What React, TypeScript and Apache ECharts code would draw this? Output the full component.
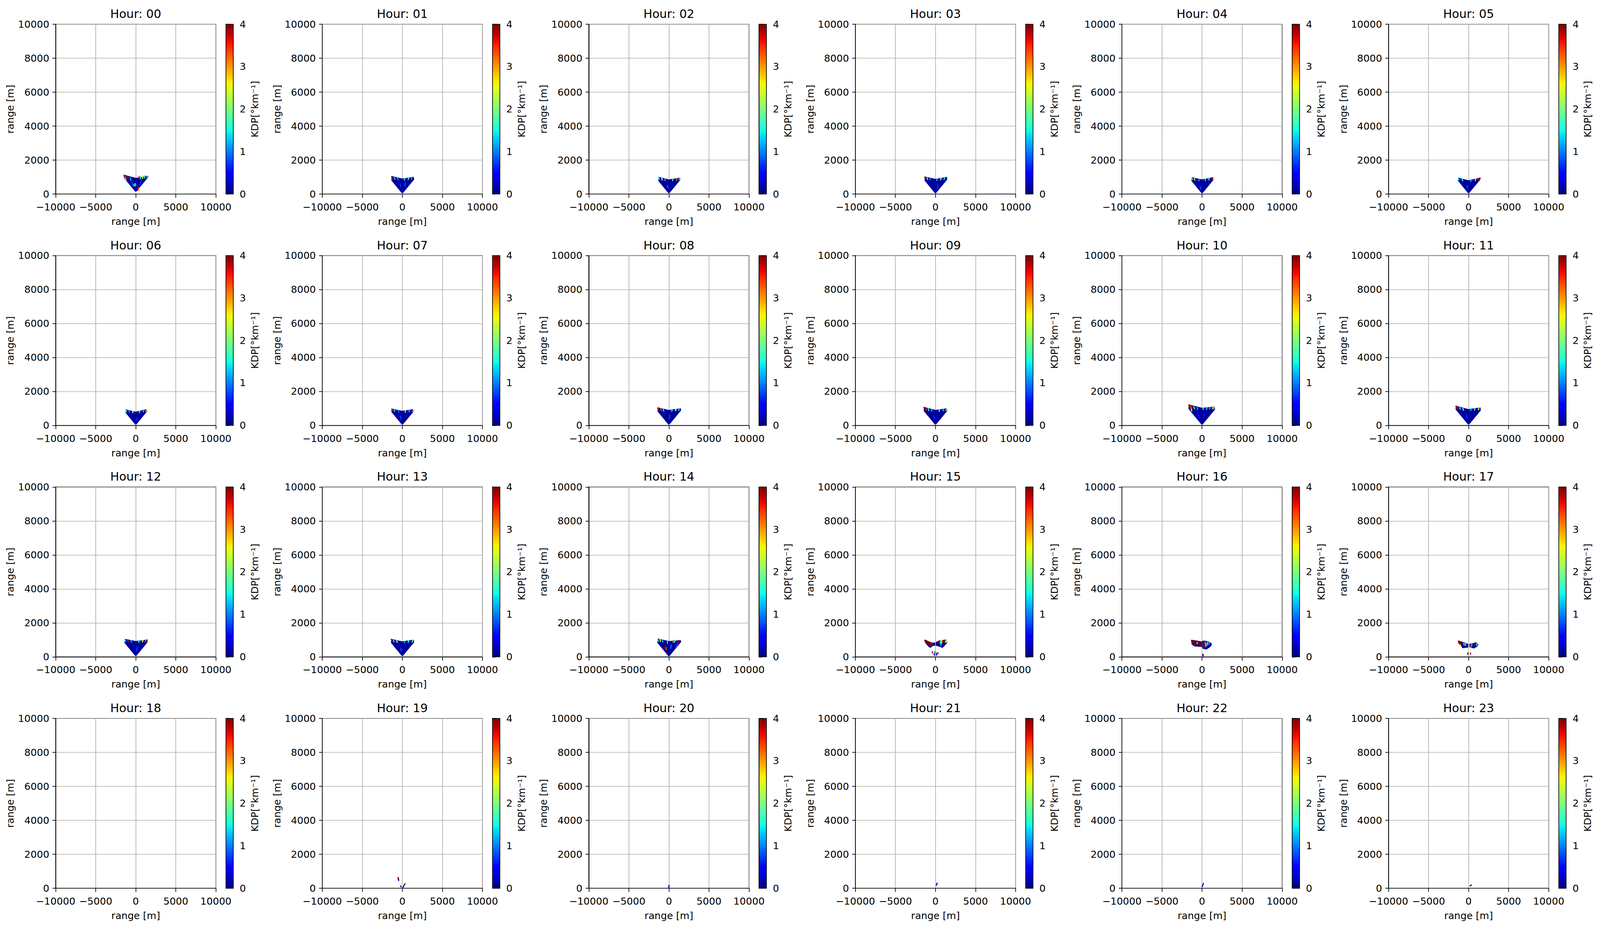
import React, { useEffect, useRef } from 'react';
import * as echarts from 'echarts';

// ---------- labels & ticks ----------
const HOUR_LABELS = ['00', '01', '02', '03', '04', '05', '06', '07', '08', '09', '10', '11',
  '12', '13', '14', '15', '16', '17', '18', '19', '20', '21', '22', '23'];
const X_TICKS = [-10000, -5000, 0, 5000, 10000];
const Y_TICKS = [0, 2000, 4000, 6000, 8000, 10000];
const CB_TICKS = [0, 1, 2, 3, 4];
const X_LABEL = 'range [m]';
const Y_LABEL = 'range [m]';
const CB_LABEL = 'KDP[°km⁻¹]';

// ---------- scan cone outlines, hours 00..14 (metres) ----------
const coneLeftX = [-1460, -1350, -1300, -1350, -1300, -1300, -1250, -1350, -1400, -1450, -1670, -1600, -1400, -1400, -1420];
const coneLeftTopY = [1120, 1050, 1000, 1020, 980, 950, 930, 980, 1050, 1080, 1220, 1150, 1050, 1050, 1070];
const coneMidTopY = [940, 900, 850, 880, 850, 800, 800, 850, 900, 900, 1030, 950, 920, 900, 920];
const coneRightX = [1550, 1450, 1400, 1450, 1400, 1450, 1400, 1450, 1500, 1450, 1600, 1500, 1450, 1450, 1510];
const coneRightTopY = [1050, 1000, 950, 1000, 980, 950, 950, 950, 1000, 1000, 1100, 1050, 1000, 1000, 970];
const coneApexY = [150, 60, 60, 60, 60, 60, 60, 60, 60, 60, 60, 60, 60, 60, 50];
const CONE_EDGE_SLOPE = 0.55; // lowest elevation of the scan (tan ~ 29 deg)
const BASE_KDP = 0.1;         // background KDP of the echo areas

// ---------- echo "wings", hours 15..17 (metres) ----------
const wingPolygons: Record<number, number[][][]> = {
  15: [
    [[-1350, 990], [-1310, 860], [-860, 600], [-610, 540], [-310, 660], [-60, 660], [-60, 830], [-450, 830], [-930, 920], [-1210, 980]],
    [[60, 860], [530, 960], [1090, 990], [1340, 1020], [1440, 830], [1090, 630], [880, 540], [530, 600], [60, 670]],
  ],
  16: [
    [[-1320, 980], [-1280, 750], [-980, 630], [-280, 600], [-40, 600], [-40, 890], [-560, 940], [-1120, 980]],
    [[40, 940], [420, 940], [980, 860], [1230, 750], [1050, 600], [560, 440], [140, 480], [40, 520]],
  ],
  17: [
    [[-1280, 940], [-1190, 830], [-840, 600], [-770, 520], [-420, 540], [-70, 560], [-70, 750], [-560, 840], [-1050, 920]],
    [[70, 750], [490, 790], [910, 840], [1210, 730], [1050, 600], [630, 500], [350, 560], [70, 580]],
  ],
};

// ---------- KDP streaks per hour: [x1, y1, x2, y2, kdp] ----------
const kdpStreaks: number[][][] = [
  // 00
  [[-1460, 1110, -1380, 960, 4], [-1300, 1080, -1230, 950, 4], [-1120, 1050, -1060, 940, 3.8], [-900, 1010, -860, 930, 4],
   [-1350, 990, -1200, 830, 1.4], [-700, 950, -600, 800, 1.2], [380, 950, 440, 1040, 3.5], [550, 1010, 600, 900, 1.5],
   [800, 1050, 860, 930, 2.4], [1050, 1070, 1100, 950, 1.6], [1250, 1050, 1300, 940, 3.9], [1400, 1040, 1450, 930, 1.3],
   [-250, 560, -50, 600, 1.6], [-150, 480, 0, 520, 2.2], [280, 420, 220, 220, 4], [350, 380, 300, 250, 3.5],
   [-500, 700, -300, 450, 0.8], [700, 800, 500, 500, 0.7]],
  // 01
  [[-1330, 1030, -1240, 900, 3.9], [-1000, 980, -930, 870, 1.3], [-600, 930, -540, 840, 1.1], [300, 920, 260, 820, 1.5],
   [800, 960, 740, 860, 2.0], [1200, 990, 1130, 880, 1.2], [-300, 600, -200, 450, 0.7], [400, 650, 300, 450, 0.8]],
  // 02
  [[-1280, 980, -1200, 860, 1.4], [-900, 930, -840, 830, 2.6], [-500, 880, -450, 790, 1.2], [500, 880, 450, 790, 1.6],
   [1000, 920, 940, 820, 3.2], [1350, 940, 1280, 840, 1.3], [-200, 500, -100, 350, 0.9]],
  // 03
  [[-1330, 1000, -1250, 880, 4.0], [-1050, 960, -990, 860, 1.5], [-700, 920, -640, 830, 1.0], [200, 890, 170, 800, 1.3],
   [700, 940, 650, 840, 2.3], [1150, 980, 1080, 870, 1.5], [300, 550, 200, 350, 0.7]],
  // 04
  [[-1280, 960, -1200, 850, 1.5], [-950, 920, -890, 820, 2.8], [-400, 870, -360, 780, 1.1], [450, 890, 400, 790, 1.4],
   [900, 940, 840, 840, 1.8], [1350, 960, 1280, 860, 3.6], [-250, 450, -150, 300, 0.8]],
  // 05
  [[-1280, 930, -1210, 830, 1.3], [-800, 870, -740, 780, 1.6], [300, 830, 270, 740, 1.2], [900, 890, 840, 790, 2.1],
   [1300, 930, 1230, 830, 3.8], [1430, 940, 1360, 830, 4.0], [-200, 500, -120, 350, 0.8]],
  // 06
  [[-1230, 910, -1160, 810, 1.4], [-850, 870, -790, 780, 1.1], [-400, 830, -360, 750, 2.2], [500, 840, 450, 750, 1.5],
   [1000, 900, 940, 800, 1.3], [1350, 930, 1280, 830, 2.8], [200, 450, 120, 300, 0.7]],
  // 07
  [[-1330, 960, -1250, 850, 3.6], [-1000, 920, -940, 830, 1.4], [-500, 880, -450, 790, 1.0], [400, 870, 360, 780, 1.8],
   [900, 910, 840, 810, 1.3], [1400, 930, 1330, 830, 2.5], [-250, 550, -150, 380, 0.8]],
  // 08
  [[-1380, 1030, -1300, 900, 4.0], [-1250, 1010, -1180, 890, 4.0], [-1000, 980, -940, 880, 3.3], [-700, 950, -650, 850, 1.4],
   [400, 940, 360, 840, 1.5], [900, 970, 840, 870, 2.4], [1300, 990, 1230, 880, 1.3], [100, 600, 50, 400, 0.8]],
  // 09
  [[-1430, 1060, -1350, 930, 4.0], [-1200, 1020, -1130, 910, 3.6], [-900, 980, -840, 880, 1.5], [-500, 930, -450, 840, 1.2],
   [500, 930, 460, 830, 1.7], [1000, 960, 940, 860, 1.3], [1400, 980, 1330, 880, 2.2], [-200, 550, -100, 380, 0.7]],
  // 10
  [[-1650, 1200, -1560, 1060, 4.0], [-1520, 1190, -1440, 1050, 4.0], [-1400, 1120, -1330, 1000, 3.3], [-1350, 960, -1290, 860, 2.5],
   [-1200, 1110, -1140, 1000, 4.0], [-1000, 1080, -940, 980, 1.5], [-600, 1050, -560, 950, 1.2], [150, 1020, 130, 950, 1.6],
   [600, 1050, 560, 960, 1.5], [1000, 1070, 940, 980, 1.3], [1350, 1080, 1290, 980, 3.0], [1500, 1070, 1440, 990, 1.6],
   [-500, 700, -350, 450, 0.6], [300, 700, 200, 450, 0.6]],
  // 11
  [[-1580, 1130, -1490, 990, 4.0], [-1400, 1100, -1330, 980, 3.7], [-1100, 1050, -1040, 950, 1.4], [-700, 1000, -650, 900, 2.0],
   [300, 980, 270, 880, 1.3], [800, 1010, 740, 910, 1.6], [1300, 1040, 1230, 930, 2.6], [-300, 600, -200, 400, 0.7]],
  // 12
  [[-1380, 1030, -1300, 910, 1.6], [-1000, 990, -940, 890, 3.6], [-600, 950, -550, 860, 1.2], [400, 950, 360, 850, 1.5],
   [900, 980, 840, 880, 2.4], [1250, 990, 1180, 890, 3.4], [1420, 990, 1350, 880, 4.0], [200, 550, 120, 380, 0.8]],
  // 13
  [[-1380, 1030, -1300, 910, 3.8], [-1100, 1000, -1040, 890, 1.4], [-700, 950, -650, 860, 2.3], [300, 920, 270, 830, 1.2],
   [800, 960, 740, 860, 1.6], [1300, 990, 1230, 880, 2.0], [-200, 500, -120, 330, 0.8]],
  // 14
  [[-1400, 1050, -1320, 930, 1.5], [-1100, 1020, -1040, 910, 2.6], [-800, 980, -750, 880, 1.3], [-500, 600, -420, 450, 4.0],
   [-350, 550, -300, 420, 3.4], [-200, 900, -180, 800, 3.0], [550, 950, 510, 860, 3.2], [750, 950, 700, 860, 1.5],
   [1200, 960, 1140, 860, 4.0], [1350, 960, 1290, 870, 4.0], [1100, 800, 900, 600, 0.8], [300, 700, 200, 500, 1.0]],
  // 15
  [[-1330, 980, -1250, 880, 4], [-1150, 960, -1080, 850, 4], [-1000, 920, -940, 800, 4], [-850, 880, -780, 700, 4],
   [-700, 860, -640, 680, 4], [-550, 820, -500, 650, 3.8], [-350, 800, -320, 700, 4], [450, 930, 420, 820, 4],
   [650, 950, 610, 800, 1.8], [800, 950, 760, 800, 2.6], [950, 960, 900, 820, 4], [1150, 980, 1100, 850, 4],
   [1300, 990, 1250, 860, 1.5], [1400, 960, 1360, 880, 2.2], [700, 800, 660, 680, 1.3],
   [-400, 300, -370, 240, 4], [-180, 180, -140, 120, 3.8], [-80, 300, -70, 220, 1], [130, 210, 150, 100, 0.2],
   [300, 240, 330, 190, 4], [-140, 140, -120, 100, 0.2]],
  // 16
  [[-1310, 970, -1250, 820, 4], [-1150, 960, -1090, 800, 4], [-950, 930, -900, 700, 4], [-750, 920, -700, 700, 4],
   [-500, 900, -460, 700, 4], [-250, 880, -200, 650, 4], [-600, 850, -580, 780, 1.5], [200, 900, 180, 600, 4],
   [400, 880, 370, 650, 3.2], [500, 800, 470, 600, 1.4], [700, 850, 660, 700, 2.8], [300, 700, 250, 550, 4],
   [900, 840, 870, 750, 1.2], [120, 150, 150, 80, 4], [100, 120, 110, 60, 0.2]],
  // 17
  [[-1270, 930, -1200, 800, 4], [-1180, 900, -1110, 760, 4], [-1080, 880, -1010, 700, 4], [-980, 860, -910, 650, 4],
   [-600, 800, -570, 700, 1.4], [-400, 780, -380, 680, 2.8], [-1050, 700, -1000, 640, 2.5], [850, 820, 810, 650, 4],
   [950, 810, 910, 660, 4], [1050, 780, 1010, 680, 1.4], [400, 730, 380, 650, 1.5], [300, 650, 280, 580, 3.5],
   [100, 700, 90, 620, 1.4], [-110, 260, -100, 210, 2.8], [-100, 200, -100, 160, 0.2], [250, 220, 230, 170, 4]],
  // 18
  [],
  // 19
  [[-520, 630, -500, 520, 0.15], [-490, 580, -480, 540, 4], [-470, 500, -460, 460, 0.15], [-200, 140, -140, 80, 0.15],
   [100, 60, 230, 190, 0.15], [250, 200, 330, 260, 4]],
  // 20
  [[-20, 40, 10, 170, 0.2]],
  // 21
  [[120, 180, 200, 300, 0.2]],
  // 22
  [[30, 100, 160, 280, 0.25]],
  // 23
  [[200, 140, 330, 190, 0.15]],
];

// ---------- layout (reference pixels, scaled to the page viewport) ----------
const FIG_W = 4773;
const FIG_H = 2382;
const AX_LEFT0 = 166;
const COL_STEP = 795.2;
const AX_TOP0 = 62;
const ROW_STEP = 592.7;
const AX_W = 478;
const AX_H = 435;
const CB_OFFSET = 508;
const CB_W = 22;
const FONT = 'DejaVu Sans';
const TICK_FS = 27;
const TITLE_FS = 32.5;

// ---------- jet colormap ----------
function interp(t: number, pts: number[][]): number {
  for (let i = 1; i < pts.length; i++) {
    if (t <= pts[i][0]) {
      const [x0, y0] = pts[i - 1];
      const [x1, y1] = pts[i];
      return y0 + (y1 - y0) * (t - x0) / (x1 - x0);
    }
  }
  return pts[pts.length - 1][1];
}
function jet(t: number): string {
  const u = Math.max(0, Math.min(1, t));
  const r = interp(u, [[0, 0], [0.35, 0], [0.66, 1], [0.89, 1], [1, 0.5]]);
  const g = interp(u, [[0, 0], [0.125, 0], [0.375, 1], [0.64, 1], [0.91, 0], [1, 0]]);
  const b = interp(u, [[0, 0.5], [0.11, 1], [0.34, 1], [0.65, 0], [1, 0]]);
  const h = (v: number) => Math.round(v * 255).toString(16).padStart(2, '0');
  return '#' + h(r) + h(g) + h(b);
}
const kdpColor = (v: number) => jet(v / CB_TICKS[CB_TICKS.length - 1]);

function conePolygon(h: number): number[][] {
  const L = coneLeftX[h];
  const R = coneRightX[h];
  const a = coneApexY[h];
  const lt = coneLeftTopY[h];
  const rt = coneRightTopY[h];
  const m = coneMidTopY[h];
  return [
    [-60, a], [L, a + CONE_EDGE_SLOPE * Math.abs(L)], [L + 40, lt], [L * 0.5, (lt + m) / 2],
    [0, m], [R * 0.5, (rt + m) / 2], [R - 40, rt], [R, a + CONE_EDGE_SLOPE * R], [60, a],
  ];
}

function buildOption(sx: number, sy: number) {
  const grid: any[] = [];
  const xAxis: any[] = [];
  const yAxis: any[] = [];
  const series: any[] = [];
  const graphic: any[] = [];
  const sf = (sx + sy) / 2;
  const tickFmt = (v: number) => String(v).replace('-', '\u2212');
  const labelStyle = { fontSize: TICK_FS * sf, fontFamily: FONT, color: '#000' };
  const lw = 2 * Math.min(sx, sy);
  const gradStops: any[] = [];
  for (let k = 0; k <= 40; k++) gradStops.push({ offset: k / 40, color: jet(k / 40) });

  HOUR_LABELS.forEach((label, i) => {
    const r = Math.floor(i / 6);
    const c = i % 6;
    const left = (AX_LEFT0 + COL_STEP * c) * sx;
    const top = (AX_TOP0 + ROW_STEP * r) * sy;
    const gi = 2 * i;
    grid.push({ left, top, width: AX_W * sx, height: AX_H * sy, show: true, borderColor: '#000', borderWidth: lw, backgroundColor: 'transparent' });
    grid.push({ left: left + CB_OFFSET * sx, top, width: CB_W * sx, height: AX_H * sy });

    xAxis.push({
      gridIndex: gi, type: 'value', min: X_TICKS[0], max: X_TICKS[X_TICKS.length - 1], interval: X_TICKS[1] - X_TICKS[0],
      axisLine: { show: true, onZero: false, lineStyle: { color: '#000', width: lw } },
      axisTick: { show: true, length: 9.5 * sy, lineStyle: { color: '#000', width: lw } },
      axisLabel: { ...labelStyle, margin: 21 * sy, formatter: tickFmt, showMinLabel: true, showMaxLabel: true, hideOverlap: false },
      splitLine: { show: true, lineStyle: { color: '#b0b0b0', width: lw } },
      name: X_LABEL, nameLocation: 'middle', nameGap: 58 * sy, nameTextStyle: labelStyle,
    });
    xAxis.push({ gridIndex: gi + 1, type: 'value', min: 0, max: 1, show: false });

    yAxis.push({
      gridIndex: gi, type: 'value', min: Y_TICKS[0], max: Y_TICKS[Y_TICKS.length - 1], interval: Y_TICKS[1] - Y_TICKS[0],
      axisLine: { show: true, onZero: false, lineStyle: { color: '#000', width: lw } },
      axisTick: { show: true, length: 9.5 * sx, lineStyle: { color: '#000', width: lw } },
      axisLabel: { ...labelStyle, margin: 19 * sx, formatter: (v: number) => String(v), showMinLabel: true, showMaxLabel: true, hideOverlap: false },
      splitLine: { show: true, lineStyle: { color: '#b0b0b0', width: lw } },
      name: Y_LABEL, nameLocation: 'middle', nameGap: 120 * sx, nameTextStyle: labelStyle,
    });
    yAxis.push({
      gridIndex: gi + 1, type: 'value', position: 'right', min: CB_TICKS[0], max: CB_TICKS[CB_TICKS.length - 1], interval: 1,
      axisLine: { show: true, lineStyle: { color: '#000', width: lw } },
      axisTick: { show: true, length: 9.5 * sx, lineStyle: { color: '#000', width: lw } },
      axisLabel: { ...labelStyle, margin: 19 * sx, formatter: (v: number) => String(v), showMinLabel: true, showMaxLabel: true, hideOverlap: false },
      splitLine: { show: false },
      name: CB_LABEL, nameLocation: 'middle', nameGap: 50 * sx, nameTextStyle: labelStyle,
    });

    const polys = i < coneLeftX.length ? [conePolygon(i)] : (wingPolygons[i] || []);
    series.push({
      type: 'custom', xAxisIndex: gi, yAxisIndex: gi, clip: true, silent: true,
      data: polys.map((p) => p[0]),
      encode: { x: 0, y: 1 },
      renderItem: (params: any, api: any) => ({
        type: 'polygon',
        shape: { points: polys[params.dataIndex].map((pt) => api.coord(pt)) },
        style: { fill: kdpColor(BASE_KDP), stroke: kdpColor(BASE_KDP), lineWidth: 1 },
      }),
    });
    series.push({
      type: 'custom', xAxisIndex: gi, yAxisIndex: gi, clip: true, silent: true,
      data: kdpStreaks[i],
      dimensions: ['x1', 'y1', 'x2', 'y2', 'kdp'],
      encode: { x: [0, 2], y: [1, 3] },
      renderItem: (params: any, api: any) => {
        const p1 = api.coord([api.value(0), api.value(1)]);
        const p2 = api.coord([api.value(2), api.value(3)]);
        return {
          type: 'line',
          shape: { x1: p1[0], y1: p1[1], x2: p2[0], y2: p2[1] },
          style: { stroke: kdpColor(api.value(4)), lineWidth: 3 * sf, lineCap: 'square' },
        };
      },
    });
    series.push({
      type: 'custom', xAxisIndex: gi + 1, yAxisIndex: gi + 1, silent: true,
      data: [[0, CB_TICKS[0], 1, CB_TICKS[CB_TICKS.length - 1]]],
      encode: { x: [0, 2], y: [1, 3] },
      renderItem: (params: any, api: any) => {
        const a = api.coord([api.value(0), api.value(3)]);
        const b = api.coord([api.value(2), api.value(1)]);
        return {
          type: 'rect',
          shape: { x: a[0], y: a[1], width: b[0] - a[0], height: b[1] - a[1] },
          style: {
            fill: { type: 'linear', x: 0, y: 1, x2: 0, y2: 0, colorStops: gradStops },
            stroke: '#000', lineWidth: lw,
          },
        };
      },
    });

    graphic.push({
      type: 'text', x: left + (AX_W / 2) * sx, y: top - 26.6 * sy, silent: true,
      style: { text: 'Hour: ' + label, fill: '#000', fontSize: TITLE_FS * sf, fontFamily: FONT, align: 'center', verticalAlign: 'middle' },
    });
  });

  return { animation: false, backgroundColor: '#fff', grid, xAxis, yAxis, series, graphic };
}

export default function App() {
  const ref = useRef<HTMLDivElement>(null);
  useEffect(() => {
    const el = ref.current;
    if (!el) return;
    document.body.style.margin = '0';
    document.body.style.overflow = 'hidden';
    document.documentElement.style.overflow = 'hidden';
    const vw = document.documentElement.clientWidth || window.innerWidth || FIG_W;
    const vh = document.documentElement.clientHeight || window.innerHeight || FIG_H;
    const sx = Math.min(1, vw / FIG_W);
    const sy = Math.min(1, vh / FIG_H);
    const w = Math.floor(FIG_W * sx);
    const h = Math.floor(FIG_H * sy);
    el.style.width = w + 'px';
    el.style.height = h + 'px';
    const chart = echarts.init(el, undefined, { renderer: 'svg', width: w, height: h });
    chart.setOption(buildOption(sx, sy) as any);
    return () => chart.dispose();
  }, []);
  return (
    <div
      ref={ref}
      style={{ position: 'absolute', left: 0, top: 0, width: FIG_W, height: FIG_H, background: '#fff', overflow: 'hidden' }}
    />
  );
}
